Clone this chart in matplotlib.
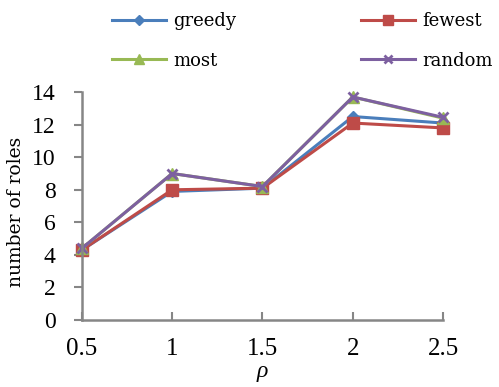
import matplotlib
matplotlib.use("Agg")
import matplotlib.pyplot as plt

rho = [0.5, 1, 1.5, 2, 2.5]
greedy = [4.3, 7.9, 8.1, 12.5, 12.1]
fewest = [4.3, 8.0, 8.1, 12.1, 11.8]
most = [4.4, 9.0, 8.2, 13.7, 12.4]
random_ = [4.4, 9.0, 8.2, 13.7, 12.45]
x_ticks = [0.5, 1, 1.5, 2, 2.5]
y_ticks = [0, 2, 4, 6, 8, 10, 12, 14]

plt.rcParams['font.family'] = ['Liberation Serif', 'DejaVu Serif']

fig = plt.figure(figsize=(4.99, 3.87), dpi=100)
ax = fig.add_axes([0.164, 0.173, 0.724, 0.589])

series = {
    "greedy": (greedy, "#4A7EBB", "D", 6),
    "fewest": (fewest, "#BE4B48", "s", 8),
    "most": (most, "#98B954", "^", 8),
    "random": (random_, "#7D60A0", "x", 7),
}
handles = {}
for label, (vals, color, marker, ms) in series.items():
    ln, = ax.plot(rho, vals, color=color, marker=marker, markersize=ms, lw=2.2,
                  markeredgewidth=2 if marker == "x" else 1, label=label,
                  clip_on=False)
    handles[label] = ln

ax.set_xlim(0.5, 2.5)
ax.set_ylim(0, 14)
ax.set_xticks(x_ticks)
ax.set_xticklabels([str(t) for t in x_ticks])
ax.set_yticks(y_ticks)
ax.tick_params(axis='x', direction='in', length=6, width=1.5, color='#868686',
               labelsize=18, pad=13)
ax.tick_params(axis='y', direction='out', length=6, width=1.5, color='#868686',
               labelsize=17, pad=13)
for s in ("top", "right"):
    ax.spines[s].set_visible(False)
for s in ("left", "bottom"):
    ax.spines[s].set_color('#868686')
    ax.spines[s].set_linewidth(1.8)

ax.set_ylabel("number of roles", fontsize=13.5, family='DejaVu Serif')
ax.yaxis.set_label_coords(-0.158, 0.475)
ax.set_xlabel("ρ", fontsize=17, fontstyle='italic', labelpad=1)

# two columns, filled row by row: greedy/fewest on top, most/random below
order = ["greedy", "most", "fewest", "random"]
fig.legend([handles[k] for k in order], order,
           loc='upper left', bbox_to_anchor=(112 / 499, 1 - 12 / 387), ncol=2,
           frameon=False, prop={'family': 'DejaVu Serif', 'size': 13},
           borderpad=0, borderaxespad=0,
           columnspacing=6.9, handlelength=3.0, handletextpad=0.4,
           labelspacing=1.2, markerscale=0.85)

fig.savefig("out.png", dpi=100)
